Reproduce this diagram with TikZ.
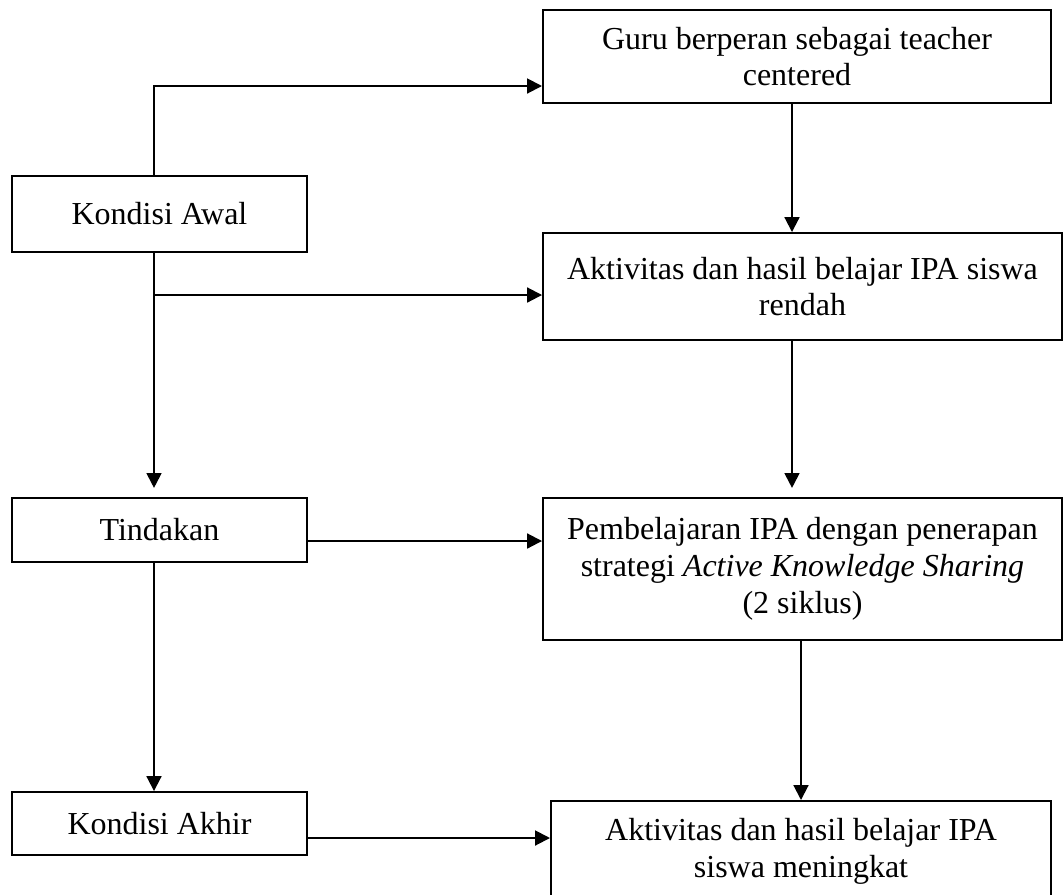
\documentclass[tikz,border=0pt]{standalone}
\usepackage{fontspec}
\setmainfont{Liberation Serif}
\usetikzlibrary{arrows.meta}
\tikzstyle{box}=[draw=black,line width=0.75pt,inner sep=0pt,align=center,font=\fontsize{12}{13.8}\selectfont]
\tikzstyle{link}=[line width=0.75pt,-{Triangle[length=5.6pt,width=5.6pt]}]

\begin{document}
\begin{tikzpicture}[x=0.375pt,y=-0.375pt]
          \clip (0,0) rectangle (1064,894);
          % left column
          \node[box,minimum width=110.6pt,minimum height=28.5pt] (awal) at (159.5,214) {Kondisi Awal};
          \node[box,minimum width=110.6pt,minimum height=24pt] (tindakan) at (159.5,530) {Tindakan};
          \node[box,minimum width=110.6pt,minimum height=23.6pt] (akhir) at (159.5,823.5) {Kondisi Akhir};
          % right column
          \node[box,minimum width=190.5pt,minimum height=34.9pt] (guru) at (797,56.5)
            {Guru berperan sebagai teacher\\centered};
          \node[box,minimum width=194.6pt,minimum height=40.1pt] (rendah) at (802.5,286.5)
            {Aktivitas dan hasil belajar IPA siswa\\rendah};
          \node[box,minimum width=194.6pt,minimum height=53.25pt] (pembel) at (802.5,569)
            {Pembelajaran IPA dengan penerapan\\strategi \textit{Active Knowledge Sharing}\\(2 siklus)};
          \node[box,minimum width=187.5pt,minimum height=37.5pt] (meningkat) at (801,851)
            {Aktivitas dan hasil belajar IPA\\siswa meningkat};
          % lanes for the connectors
          \coordinate (trunk) at (154,0);
          \coordinate (colA) at (792,0);
          \coordinate (colB) at (801,0);
          \coordinate (rowA) at (0,86);
          \coordinate (rowB) at (0,295);
          \coordinate (rowC) at (0,541);
          \coordinate (rowD) at (0,838);
          \draw[link] (awal.north -| trunk) |- (guru.west |- rowA);
          \draw[link] (guru.south -| colA) -- (rendah.north -| colA);
          \draw[link,shorten >=3.4pt] (awal.south -| trunk) -- (tindakan.north -| trunk);
          \draw[link] (trunk |- rowB) -- (rendah.west |- rowB);
          \draw[link,shorten >=3.4pt] (rendah.south -| colA) -- (pembel.north -| colA);
          \draw[link] (tindakan.east |- rowC) -- (pembel.west |- rowC);
          \draw[link] (tindakan.south -| trunk) -- (akhir.north -| trunk);
          \draw[link] (pembel.south -| colB) -- (meningkat.north -| colB);
          \draw[link] (akhir.east |- rowD) -- (meningkat.west |- rowD);
\end{tikzpicture}
\end{document}
